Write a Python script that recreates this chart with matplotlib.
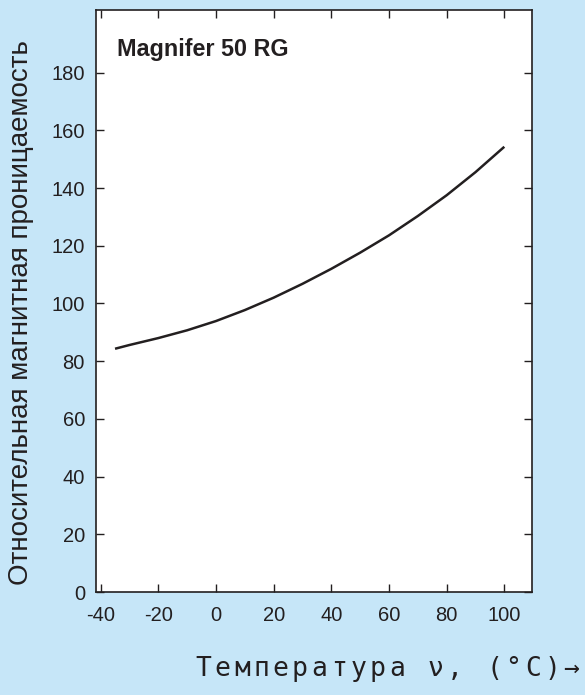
import matplotlib
matplotlib.use("Agg")
import matplotlib.pyplot as plt

# Relative permeability of Magnifer 50 RG versus temperature
temperature_c = [-35, -30, -20, -10, 0, 10, 20, 30, 40, 50, 60, 70, 80, 90, 100]
permeability = [84.3, 85.6, 88.0, 90.7, 93.9, 97.7, 102.0, 106.8, 112.0,
                117.6, 123.6, 130.3, 137.5, 145.5, 154.3]

x_ticks = [-40, -20, 0, 20, 40, 60, 80, 100]
y_ticks = [0, 20, 40, 60, 80, 100, 120, 140, 160, 180]

title_text = "Magnifer 50 RG"
y_label = "Относительная магнитная проницаемость"
x_label = "Температура ν, (°C)→"

bg = "#c6e6f8"
ink = "#231f20"

W, H = 585, 695
fig = plt.figure(figsize=(W / 100, H / 100), dpi=100, facecolor=bg)
ax = fig.add_axes([96 / W, 1 - 592 / H, 436 / W, 582 / H])
ax.set_facecolor("white")

ax.plot(temperature_c, permeability, color=ink, lw=1.8, solid_capstyle="butt",
        solid_joinstyle="round")

ax.set_xlim(-41.6, 109.6)
ax.set_ylim(0, 201.7)
ax.set_xticks(x_ticks)
ax.set_yticks(y_ticks)
ax.set_xticklabels([str(v) for v in x_ticks])
ax.set_yticklabels([str(v) for v in y_ticks])

sans = ["Liberation Sans", "DejaVu Sans"]
ax.tick_params(axis="both", which="major", direction="in", length=5.5, width=1.0,
               color=ink, labelcolor=ink, labelsize=14.5,
               top=True, right=True)
ax.tick_params(axis="x", pad=10)
ax.tick_params(axis="y", pad=8)
for lab in ax.get_xticklabels() + ax.get_yticklabels():
    lab.set_family(sans)

for sp in ax.spines.values():
    sp.set_color(ink)
    sp.set_linewidth(1.2)

ax.text(21 / 436, (592 - 56) / 582, title_text, transform=ax.transAxes,
        fontsize=16.8, fontweight="bold", family=sans, color=ink,
        ha="left", va="baseline")

fig.text(21 / W, 1 - 313 / H, y_label, rotation=90, fontsize=20,
         family=sans, color=ink, ha="center", va="center")

# Monospaced axis caption with wide, even character pitch
pitch = 19.4
x0 = 195
for i, ch in enumerate(x_label):
    fig.text((x0 + i * pitch) / W, 1 - 676 / H, ch, fontsize=19,
             family=["DejaVu Sans Mono", "DejaVu Sans"], color=ink,
             ha="left", va="baseline")

fig.savefig("out.png", dpi=100, facecolor=bg)
